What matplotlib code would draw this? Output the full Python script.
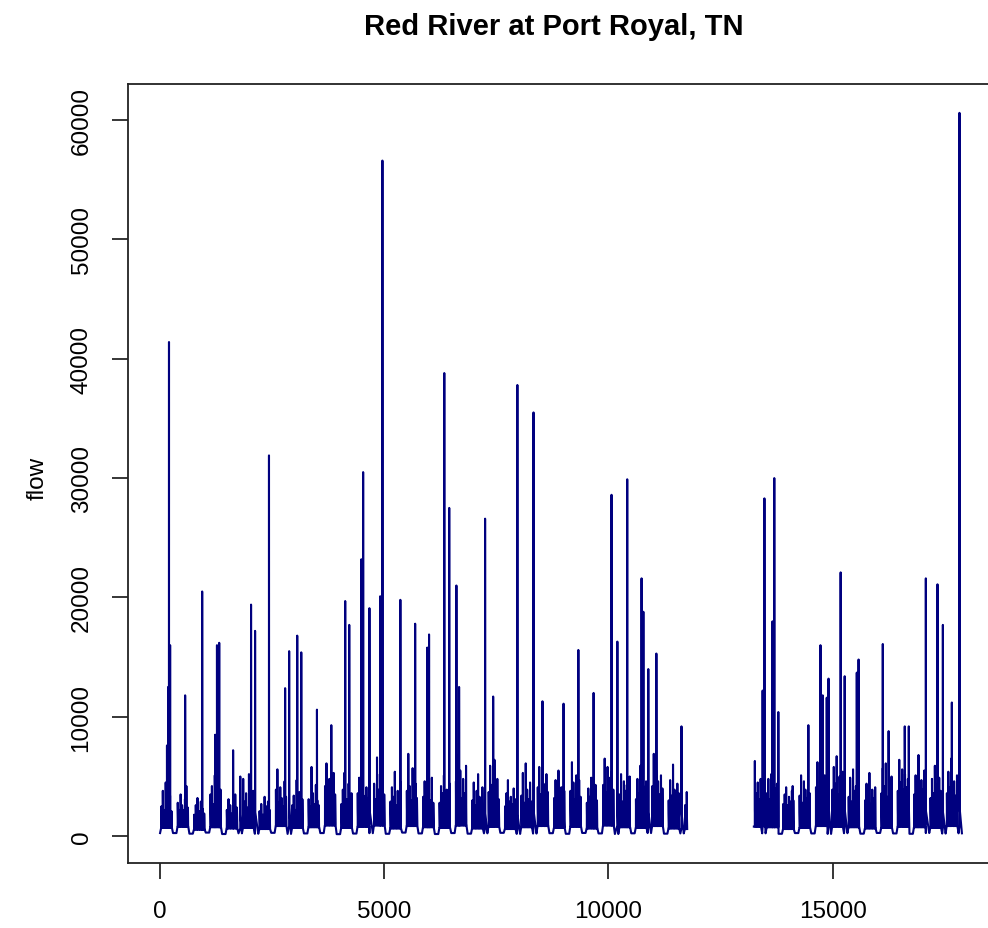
import numpy as np
import matplotlib.pyplot as plt

plt.rcParams["font.family"] = ["Liberation Sans", "DejaVu Sans"]

OUT_FILE = "out.png"
LINE_COLOR = "#00007f"

# daily record, water years of 365 days, with a missing stretch
YEAR_LEN = 365
RECORD_END = 17950
GAP_START = 11760
GAP_END = 13240

# late-summer low flow of each water year (cfs)
SUMMER_LOW = [260, 210, 300, 180, 240, 200, 280, 190, 230, 260,
              170, 220, 250, 200, 300, 230, 180, 260, 210, 240,
              280, 190, 220, 250, 200, 270, 230, 180, 240, 260,
              210, 230, 250, 220, 220, 220, 240, 200, 260, 230,
              190, 250, 210, 270, 230, 200, 260, 220, 240]

# flow just after a storm has passed (cfs)
WINTER_BASE = [1900, 2200, 1500, 2100, 1800, 2000, 1600, 2400, 1900, 2100,
               2500, 2000, 2200, 2600, 1900, 2400, 2100, 2000, 2500, 1900,
               2200, 1800, 2100, 2400, 2000, 2200, 1900, 2500, 2100, 2000,
               2400, 1900, 1800, 1900, 1900, 1900, 2200, 2100, 1700, 2000,
               2400, 2200, 2100, 1900, 2000, 2200, 2100, 2000, 2400]

# lowest winter flow between storms (cfs)
WINTER_TROUGH = [700, 800, 550, 750, 650, 700, 600, 850, 700, 750,
                 900, 700, 800, 900, 650, 850, 750, 700, 900, 650,
                 800, 600, 750, 850, 700, 800, 650, 900, 750, 700,
                 850, 650, 600, 650, 650, 650, 800, 750, 600, 700,
                 850, 800, 750, 650, 700, 800, 750, 700, 850]

# smaller storm peaks in each water year (cfs)
MINOR_FLOWS = [
    [2500, 3800, 2200, 4500, 3000, 2700, 3400, 2100],
    [2800, 2100, 3500, 2600, 1900, 3100, 4200, 2400],
    [1800, 2600, 3200, 2100, 2900, 2300, 1900],
    [3500, 4200, 2700, 5100, 2300, 3300, 2800, 3900],
    [2200, 3100, 2600, 1900, 2800, 3500, 2400],
    [4800, 2900, 3600, 2400, 5200, 3100, 2700, 3800],
    [2100, 2700, 1800, 3300, 2500, 2900, 2200],
    [3900, 5600, 2800, 4100, 3200, 2500, 4600, 3300],
    [2600, 3400, 2200, 4700, 2900, 3700, 2500, 3100],
    [3100, 2500, 5800, 3600, 2700, 4300, 3000, 2600],
    [4200, 6100, 3300, 4800, 2900, 3700, 5300, 3500],
    [2700, 3900, 5300, 2400, 3100, 4400, 2900, 3600],
    [3600, 4900, 2800, 6200, 3400, 2600, 4100, 3200],
    [4400, 3100, 6600, 3900, 5200, 2900, 4700, 3500],
    [2900, 4100, 3300, 5400, 2600, 3800, 3100, 4500],
    [3800, 6900, 4200, 3000, 5700, 3500, 4400, 3200],
    [3300, 4600, 2700, 6300, 3600, 3000, 4900, 2800],
    [2800, 4200, 3600, 5100, 2500, 3900, 3200, 4400],
    [4600, 6800, 3900, 5500, 3200, 4800, 3600, 5900],
    [3000, 4500, 2600, 3800, 5200, 3300, 2900, 4100],
    [3700, 5900, 4300, 2900, 6400, 3400, 4800, 3100],
    [2500, 3600, 4700, 2900, 3300, 2700, 4000, 3100],
    [3400, 5300, 2800, 6100, 3900, 3100, 4500, 2900],
    [4100, 5800, 3500, 6700, 4400, 3100, 5200, 3700],
    [3200, 4700, 2700, 5500, 3600, 4100, 2900, 3800],
    [3800, 6200, 4500, 3100, 5100, 3600, 4700, 3300],
    [2800, 4000, 3300, 4900, 2600, 3600, 4300, 3000],
    [4300, 6500, 3700, 5800, 4900, 3200, 5400, 3900],
    [3500, 5200, 2900, 4600, 3800, 4300, 3100, 5000],
    [3100, 4800, 3600, 5900, 2800, 4200, 3400, 4600],
    [4200, 6900, 3800, 5400, 4600, 3500, 5100, 4000],
    [3000, 4700, 3400, 6000, 3900, 3300, 4400, 3600],
    [2600, 3700, 4200, 3100, 2500, 3300, 2900],
    [2600], [2600], [2600],
    [3300, 5400, 3900, 6300, 3600, 4500, 3100, 4800],
    [3600, 4800, 3100, 5200, 2900, 4100, 3500, 4400],
    [2700, 3500, 4100, 2600, 3300, 2900, 3800, 3000],
    [3400, 5100, 2800, 4600, 3900, 3200, 4300, 3600],
    [4100, 6200, 3700, 5600, 4800, 3300, 5100, 3900],
    [3900, 5800, 4400, 6700, 3500, 5000, 4200, 5400],
    [3300, 4900, 2900, 5600, 3800, 4200, 3100, 4600],
    [3000, 4400, 3500, 5300, 2700, 3900, 3200, 4100],
    [3600, 5700, 4200, 6100, 3300, 4700, 3900, 5000],
    [3800, 6400, 4500, 5600, 3900, 5200, 4100, 4800],
    [3500, 5100, 4100, 6800, 3700, 4700, 3900, 5500],
    [3200, 4800, 3600, 5900, 4300, 3500, 4900, 3800],
    [3600, 5400, 4100, 6500, 3800, 4600, 3400, 5100],
]

# larger storm peaks: day of record and peak flow (cfs)
PEAK_DAY = [155, 180, 200, 225, 560, 940, 1230, 1270, 1320, 1630,
            1790, 2030, 2120, 2430, 2790, 2880, 3060, 3150, 3500, 3820,
            4130, 4220, 4490, 4530, 4670, 4910, 4960, 5360, 5690, 5960,
            6000, 6340, 6450, 6610, 6670, 7250, 7430, 7970, 8330, 8530,
            9000, 9330, 9670, 10070, 10200, 10420, 10740, 10780, 10890, 11070,
            11630,
            13440, 13480, 13660, 13700, 13790, 14110, 14460, 14730, 14780, 14870,
            14910, 15180, 15270, 15540, 15580, 16120, 16250, 16610, 16700, 17080,
            17340, 17460, 17660, 17830]
PEAK_FLOW = [7600, 12500, 41400, 16000, 11800, 20500, 8500, 16000, 16200, 7200,
             5000, 19400, 17200, 31900, 12400, 15500, 16800, 15400, 10600, 9300,
             19700, 17700, 23200, 30500, 19100, 20100, 56600, 19800, 17800, 15800,
             16900, 38800, 27500, 21000, 12500, 26600, 11700, 37800, 35500, 11300,
             11100, 15600, 12000, 28600, 16300, 29900, 21600, 18800, 14000, 15300,
             9200,
             12200, 28300, 18000, 30000, 10400, 4200, 9300, 16000, 11800, 11600,
             13200, 22100, 13400, 13700, 14800, 16100, 8800, 9200, 9200, 21600,
             21100, 17700, 11200, 60600]

X_TICKS = [0, 5000, 10000, 15000]
Y_TICKS = [0, 10000, 20000, 30000, 40000, 50000, 60000]


def build_series():
    pts = []
    for k, low in enumerate(SUMMER_LOW):
        start = k * YEAR_LEN
        prev_low = SUMMER_LOW[k - 1] if k else low
        base = WINTER_BASE[k]
        trough = WINTER_TROUGH[k]
        pts += [(start + 1, prev_low), (start + 25, trough), (start + 262, trough),
                (start + 290, low), (start + YEAR_LEN, low)]
        minors = MINOR_FLOWS[k]
        days = start + np.linspace(30, 255, len(minors))
        for d, f in zip(days, minors):
            pts += [(d - 1, trough), (d, f), (d + 3, base), (d + 10, trough)]
    for d, f in zip(PEAK_DAY, PEAK_FLOW):
        k = d // YEAR_LEN
        pts += [(d - 1, WINTER_TROUGH[k]), (d, f), (d + 3, WINTER_BASE[k])]
    pts.sort()
    pts = [p for p in pts if p[0] <= RECORD_END and not (GAP_START < p[0] < GAP_END)]
    x = [p[0] for p in pts]
    y = [p[1] for p in pts]
    # break the line over the missing record
    i = np.searchsorted(x, GAP_END)
    x.insert(i, (GAP_START + GAP_END) / 2)
    y.insert(i, np.nan)
    return np.array(x), np.array(y)


def main():
    x, y = build_series()
    fig = plt.figure(figsize=(9.88, 9.29), dpi=100)
    ax = fig.add_axes([128 / 988, 1 - 864 / 929, 866 / 988, 779 / 929])
    ax.plot(x, y, color=LINE_COLOR, lw=1.5)
    ax.margins(x=0.04, y=0.04)

    ax.set_xticks(X_TICKS)
    ax.set_yticks(Y_TICKS)
    ax.set_xticklabels([str(t) for t in X_TICKS])
    ax.set_yticklabels([str(t) for t in Y_TICKS], rotation=90, va="center")
    ax.tick_params(direction="out", length=11.5, width=1.1, labelsize=17.5, colors="black")
    ax.tick_params(axis="x", pad=15)
    ax.tick_params(axis="y", pad=14)
    for sp in ax.spines.values():
        sp.set_linewidth(1.3)
        sp.set_color("#222222")

    fig.text(554 / 988, 1 - 27 / 929, "Red River at Port Royal, TN", ha="center", va="center",
             fontsize=21, fontweight="bold")
    fig.text(38 / 988, 1 - 478 / 929, "flow", rotation=90, ha="center", va="center", fontsize=17.5)

    fig.savefig(OUT_FILE, dpi=100, facecolor="white")
    plt.close(fig)


if __name__ == "__main__":
    main()
